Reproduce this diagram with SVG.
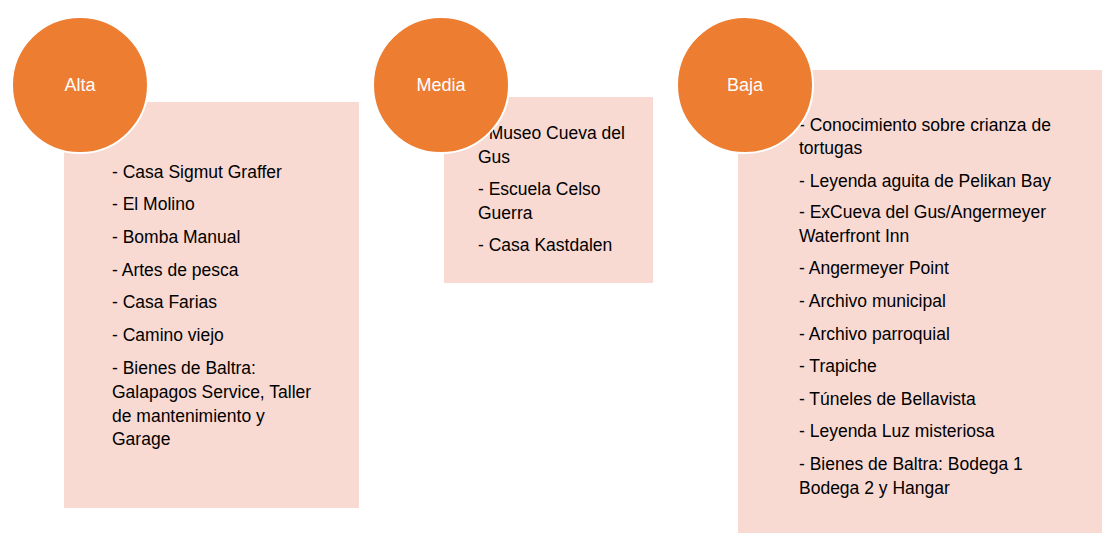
<svg xmlns="http://www.w3.org/2000/svg" width="1102" height="534" viewBox="0 0 1102 534">
<style>
.box{fill:#F8DAD3}
.circ{fill:#ED7D31;stroke:#FFFFFF;stroke-width:2}
.lbl{font-family:"Liberation Sans",Arial,sans-serif;font-size:18px;fill:#FFFFFF;text-anchor:middle}
.item{font-family:"Liberation Sans",Arial,sans-serif;font-size:17.5px;fill:#000000}
</style>
<rect width="1102" height="534" fill="#FFFFFF"/>
<g id="connectors"></g>
<g id="alta">
<rect class="box" x="64" y="102" width="295" height="406"/>
<text class="item" x="112" y="178">- Casa Sigmut Graffer</text>
<text class="item" x="112" y="210">- El Molino</text>
<text class="item" x="112" y="243">- Bomba Manual</text>
<text class="item" x="112" y="276">- Artes de pesca</text>
<text class="item" x="112" y="308">- Casa Farias</text>
<text class="item" x="112" y="341">- Camino viejo</text>
<text class="item" x="112" y="374">- Bienes de Baltra:</text>
<text class="item" x="112" y="398">Galapagos Service, Taller</text>
<text class="item" x="112" y="422">de mantenimiento y</text>
<text class="item" x="112" y="445">Garage</text>
<circle class="circ" cx="80" cy="85" r="68"/>
<text class="lbl" x="80" y="91">Alta</text>
</g>
<g id="media">
<rect class="box" x="444" y="97" width="209" height="186"/>
<text class="item" x="478" y="139">- Museo Cueva del</text>
<text class="item" x="478" y="163">Gus</text>
<text class="item" x="478" y="195">- Escuela Celso</text>
<text class="item" x="478" y="219">Guerra</text>
<text class="item" x="478" y="251">- Casa Kastdalen</text>
<circle class="circ" cx="441" cy="85" r="68"/>
<text class="lbl" x="441" y="91">Media</text>
</g>
<g id="baja">
<rect class="box" x="738" y="70" width="364" height="463"/>
<text class="item" x="799" y="131">- Conocimiento sobre crianza de</text>
<text class="item" x="799" y="154">tortugas</text>
<text class="item" x="799" y="187">- Leyenda aguita de Pelikan Bay</text>
<text class="item" x="799" y="218">- ExCueva del Gus/Angermeyer</text>
<text class="item" x="799" y="242">Waterfront Inn</text>
<text class="item" x="799" y="274">- Angermeyer Point</text>
<text class="item" x="799" y="307">- Archivo municipal</text>
<text class="item" x="799" y="340">- Archivo parroquial</text>
<text class="item" x="799" y="372">- Trapiche</text>
<text class="item" x="799" y="405">- Túneles de Bellavista</text>
<text class="item" x="799" y="437">- Leyenda Luz misteriosa</text>
<text class="item" x="799" y="470">- Bienes de Baltra: Bodega 1</text>
<text class="item" x="799" y="494">Bodega 2 y Hangar</text>
<circle class="circ" cx="745" cy="85" r="68"/>
<text class="lbl" x="745" y="91">Baja</text>
</g>
</svg>
